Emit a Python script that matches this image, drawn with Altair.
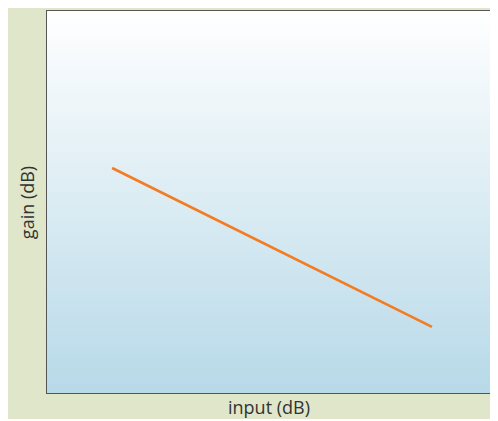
import altair as alt
import pandas as pd

# data (arbitrary units, 0-100 axes without ticks)
input_db = [14.7, 86.9]
gain_db = [58.9, 17.3]

W, H = 443, 382

df = pd.DataFrame({"input": input_db, "gain": gain_db})

bg = alt.Chart(pd.DataFrame({"a": [0]})).mark_rect(
    color=alt.LinearGradient(
        gradient="linear",
        x1=0, y1=0, x2=0, y2=1,
        stops=[alt.GradientStop(color="#ffffff", offset=0),
               alt.GradientStop(color="#b7d9e8", offset=1)],
    )
).encode(x=alt.value(0), x2=alt.value(W), y=alt.value(0), y2=alt.value(H))

line = alt.Chart(df).mark_line(color="#f47b20", strokeWidth=2.6).encode(
    x=alt.X("input:Q", scale=alt.Scale(domain=[0, 100]),
            axis=alt.Axis(title="input (dB)", labels=False, ticks=False, domain=False,
                          grid=False, titlePadding=6)),
    y=alt.Y("gain:Q", scale=alt.Scale(domain=[0, 100]),
            axis=alt.Axis(title="gain (dB)", labels=False, ticks=False, domain=False,
                          grid=False, titlePadding=10)),
)

chart = alt.layer(bg, line).properties(
    width=W, height=H,
    autosize=alt.AutoSizeParams(type="none"),
    padding={"left": 39, "top": 3, "right": 0, "bottom": 26},
    background="#dfe6c9",
).configure_view(
    stroke="#555555", strokeWidth=2
).configure_axis(
    titleFont="Open Sans", titleFontSize=18, titleFontWeight="normal", titleColor="#333333"
)

chart.save("out.html", embed_options={"renderer": "svg", "actions": False})
